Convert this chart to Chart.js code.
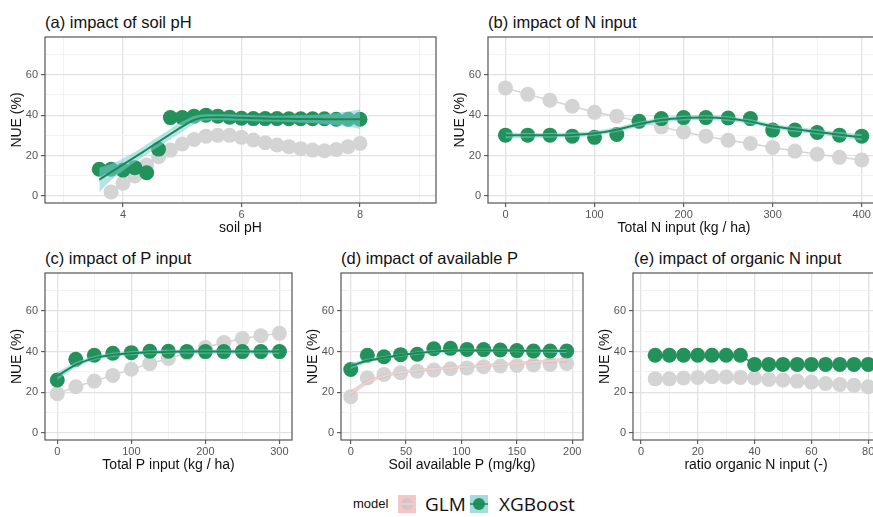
<!DOCTYPE html>
<html>
<head>
<meta charset="utf-8">
<script src="https://cdn.jsdelivr.net/npm/chart.js@4.4.1/dist/chart.umd.min.js"></script>
<style>
  html, body { margin: 0; padding: 0; background: #fff; overflow: hidden; width: 873px; height: 517px; }
  body { position: relative; font-family: "Liberation Sans", Arial, sans-serif; }
  canvas { position: absolute; }
  .ptitle { position: absolute; font-size: 16.5px; line-height: 1; color: #111; white-space: nowrap; }
  .lg { position: absolute; top: 495px; height: 18px; line-height: 18px; color: #111; white-space: nowrap; }
  .lg svg { display: block; }
</style>
</head>
<body>
<div class="ptitle" style="left:45px;top:14px">(a) impact of soil pH</div>
<div class="ptitle" style="left:488px;top:14px">(b) impact of N input</div>
<div class="ptitle" style="left:45px;top:250px">(c) impact of P input</div>
<div class="ptitle" style="left:341px;top:250px">(d) impact of available P</div>
<div class="ptitle" style="left:634px;top:250px">(e) impact of organic N input</div>

<canvas id="pa" width="447" height="214" style="left:3px;top:23px"></canvas>
<canvas id="pb" width="448" height="214" style="left:446px;top:23px"></canvas>
<canvas id="pc" width="303" height="215" style="left:3px;top:259px"></canvas>
<canvas id="pd" width="298" height="215" style="left:299px;top:259px"></canvas>
<canvas id="pe" width="302" height="215" style="left:591px;top:259px"></canvas>

<div class="lg" style="left:353px;font-size:13px">model</div>
<div class="lg" style="left:398px">
  <svg width="18" height="18"><rect width="18" height="18" fill="#f5c6c6"/><line x1="0" y1="9" x2="18" y2="9" stroke="#ddd4d4" stroke-width="1.5"/><circle cx="9" cy="9" r="6" fill="#d6c4c6"/><line x1="3" y1="9" x2="15" y2="9" stroke="#e4dada" stroke-width="1.5"/></svg>
</div>
<div class="lg" style="left:425px;font-size:19px;font-family:'Open Sans',sans-serif">GLM</div>
<div class="lg" style="left:470px">
  <svg width="18" height="18"><rect width="18" height="18" fill="#a5dade"/><circle cx="9" cy="9" r="6" fill="#22925a"/><line x1="0" y1="9" x2="18" y2="9" stroke="#1a8a50" stroke-width="1.5"/></svg>
</div>
<div class="lg" style="left:499px;font-size:19px;font-family:'Open Sans',sans-serif">XGBoost</div>

<script>
// (a) soil pH
const phX = [3.6, 3.8, 4.0, 4.2, 4.4, 4.6, 4.8, 5.0, 5.2, 5.4, 5.6, 5.8, 6.0, 6.2, 6.4, 6.6, 6.8, 7.0, 7.2, 7.4, 7.6, 7.8, 8.0];
const phGlm = [null, 2.0, 6.3, 9.9, 15.3, 19.4, 22.7, 25.7, 28.0, 29.6, 30.0, 30.0, 29.0, 27.7, 26.3, 25.2, 24.4, 23.4, 22.7, 22.4, 23.0, 24.4, 26.0];
const phXgb = [13.2, 13.2, 12.8, 14.0, 11.5, 23.2, 38.8, 38.8, 39.5, 40.0, 39.5, 39.0, 38.5, 38.3, 38.3, 38.3, 38.2, 38.2, 38.2, 38.2, 38.0, 38.0, 38.0];
const phXgbFit = [8.0, 11.8, 15.5, 19.2, 23.0, 26.8, 30.6, 34.3, 37.6, 38.9, 39.0, 38.9, 38.7, 38.5, 38.3, 38.2, 38.2, 38.1, 38.1, 38.0, 38.0, 38.0, 38.0];
const phXgbBand = [6.0, 4.0, 3.0, 2.5, 2.5, 2.5, 2.5, 2.5, 2.0, 1.5, 1.5, 1.5, 1.5, 1.5, 1.5, 1.5, 1.6, 1.8, 2.0, 2.5, 3.0, 3.8, 4.8];

// (b) total N input
const nX = [0, 25, 50, 75, 100, 125, 150, 175, 200, 225, 250, 275, 300, 325, 350, 375, 400];
const nGlm = [53.5, 50.3, 47.4, 44.4, 41.4, 39.5, 36.8, 34.2, 31.7, 29.6, 27.6, 26.0, 24.0, 22.2, 20.7, 19.1, 17.8];
const nXgb = [30.1, 30.1, 30.1, 29.6, 29.0, 30.4, 37.0, 38.3, 38.8, 38.8, 38.6, 38.3, 32.6, 32.6, 31.4, 30.1, 29.6];
const nXgbFit = [30.0, 30.0, 30.0, 30.2, 31.0, 32.8, 35.5, 37.6, 38.6, 38.8, 38.3, 36.8, 34.5, 33.0, 31.7, 30.3, 29.0];
const nXgbBand = [1.5, 1.2, 1.2, 1.2, 1.2, 1.2, 1.2, 1.2, 1.2, 1.2, 1.2, 1.2, 1.2, 1.2, 1.2, 1.3, 1.6];

// (c) total P input
const pX = [0, 25, 50, 75, 100, 125, 150, 175, 200, 225, 250, 275, 300];
const pGlm = [19.3, 22.7, 25.5, 28.3, 31.3, 34.1, 36.6, 39.3, 42.0, 44.5, 46.5, 47.8, 49.0];
const pXgb = [26.0, 36.2, 38.2, 39.2, 39.5, 40.2, 40.2, 40.0, 40.0, 40.0, 40.0, 40.0, 40.0];
const pXgbFit = [28.0, 33.5, 36.8, 38.4, 39.2, 39.7, 39.9, 40.0, 40.0, 40.0, 40.0, 40.0, 40.0];
const pXgbBand = [2.0, 1.3, 1.0, 1.0, 1.0, 1.0, 1.0, 1.0, 1.0, 1.0, 1.0, 1.0, 1.2];

// (d) soil available P
const aX = [0, 15, 30, 45, 60, 75, 90, 105, 120, 135, 150, 165, 180, 195];
const aGlm = [17.8, 27.1, 28.8, 29.6, 30.4, 30.9, 31.6, 32.0, 32.6, 32.9, 33.2, 33.4, 33.7, 34.2];
const aXgb = [31.2, 38.2, 37.5, 38.5, 38.7, 41.4, 41.6, 41.1, 41.0, 40.8, 40.5, 40.3, 40.3, 40.3];
const aGlmFit = [19.5, 25.0, 28.0, 29.8, 30.8, 31.5, 32.1, 32.6, 33.1, 33.6, 34.2, 34.8, 35.4, 36.0];
const aGlmBand = [1.5, 1.0, 0.9, 0.8, 0.8, 0.8, 0.8, 0.8, 0.8, 0.8, 0.8, 0.9, 1.0, 1.2];
const aXgbFit = [33.0, 35.5, 37.0, 38.3, 39.3, 40.0, 40.5, 40.6, 40.6, 40.6, 40.5, 40.4, 40.4, 40.3];
const aXgbBand = [1.5, 1.0, 0.8, 0.8, 0.8, 0.8, 0.8, 0.8, 0.8, 0.8, 0.8, 0.8, 0.9, 1.1];

// (e) ratio organic N input
const oX = [5, 10, 15, 20, 25, 30, 35, 40, 45, 50, 55, 60, 65, 70, 75, 80];
const oGlm = [26.6, 26.6, 27.0, 27.3, 27.6, 27.5, 27.3, 27.0, 26.3, 26.0, 25.5, 25.0, 24.3, 23.8, 23.4, 22.7];
const oXgb = [38.2, 38.2, 38.2, 38.2, 38.2, 38.2, 38.2, 33.7, 33.7, 33.7, 33.7, 33.7, 33.7, 33.7, 33.7, 33.7];

const yTicks = [0, 20, 40, 60];
const FONT = '"Liberation Sans", Arial, sans-serif';
const GREEN = '#22925a';
const GREEN_LINE = '#1a8a50';
const GREY = '#d4d4d4';
const TEAL = 'rgba(118, 204, 214, 0.55)';
const PINK = 'rgba(243, 160, 160, 0.45)';

const pts = (xs, ys) => xs.map((x, i) => ({ x: x, y: ys[i] }));

// frame around each panel, like theme_bw
const panelBox = {
  id: 'panelBox',
  afterDraw(chart) {
    const { ctx, chartArea: a } = chart;
    ctx.save();
    ctx.strokeStyle = '#555';
    ctx.lineWidth = 1.2;
    ctx.strokeRect(a.left, a.top, a.right - a.left, a.bottom - a.top);
    ctx.restore();
  }
};

function points(xs, ys, color, line, order) {
  return {
    data: pts(xs, ys), order: order, showLine: line, spanGaps: false,
    borderColor: color, borderWidth: 1.5, tension: 0,
    pointRadius: 7.5, pointBorderWidth: 0, pointBackgroundColor: color
  };
}

function fitLine(xs, ys, color, order) {
  return {
    data: pts(xs, ys), order: order, borderColor: color, borderWidth: 2,
    pointRadius: 0, cubicInterpolationMode: 'monotone'
  };
}

// confidence band: upper edge filled down to the lower edge
function band(xs, fit, half, color, order) {
  const style = { order: order, borderWidth: 0, pointRadius: 0, cubicInterpolationMode: 'monotone', backgroundColor: color };
  return [
    Object.assign({ data: pts(xs, fit.map((v, i) => v + half[i])), fill: '+1' }, style),
    Object.assign({ data: pts(xs, fit.map((v, i) => v - half[i])), fill: false }, style)
  ];
}

function axis(dir, min, max, step, major, title) {
  const isMajor = v => Math.abs(v / major - Math.round(v / major)) < 1e-6;
  return {
    type: 'linear',
    position: dir === 'x' ? 'bottom' : 'left',
    min: min, max: max,
    border: { display: false },
    grid: {
      color: c => c.tick && isMajor(c.tick.value) ? '#e2e2e2' : '#efefef',
      lineWidth: c => c.tick && isMajor(c.tick.value) ? 1.3 : 0.8,
      tickColor: c => c.tick && isMajor(c.tick.value) ? '#444' : 'rgba(0,0,0,0)',
      tickLength: 4,
      tickWidth: 1
    },
    ticks: {
      stepSize: step, includeBounds: false, autoSkip: false, maxTicksLimit: 40,
      maxRotation: 0, padding: dir === 'x' ? 1 : 3,
      color: '#555', font: { size: 11, family: FONT },
      callback: v => (dir === 'y' ? yTicks.includes(v) : isMajor(v)) ? v : ''
    },
    title: {
      display: true, text: title, color: '#111',
      font: { size: 14, family: FONT },
      padding: dir === 'x' ? { top: 0, bottom: 0 } : { top: 6, bottom: 0 }
    },
    afterFit: s => { if (dir === 'x') s.height = 34; else s.width = 42; }
  };
}

function panel(id, x, datasets) {
  return new Chart(document.getElementById(id), {
    type: 'line',
    data: { datasets: datasets },
    options: {
      responsive: false,
      animation: false,
      events: [],
      layout: { padding: { top: 14, right: 14, left: 0, bottom: 0 } },
      plugins: { legend: { display: false }, tooltip: { enabled: false } },
      scales: {
        x: axis('x', x.min, x.max, x.step, x.major, x.title),
        y: axis('y', -3.5, 78.7, 10, 20, 'NUE (%)')
      }
    },
    plugins: [panelBox]
  });
}

panel('pa', { min: 2.684, max: 9.283, step: 1, major: 2, title: 'soil pH' }, [
  points(phX, phGlm, GREY, true, 6),
  points(phX, phXgb, GREEN, false, 4),
  ...band(phX, phXgbFit, phXgbBand, TEAL, 3),
  fitLine(phX, phXgbFit, GREEN_LINE, 1)
]);

panel('pb', { min: -19.6, max: 420.5, step: 50, major: 100, title: 'Total N input (kg / ha)' }, [
  points(nX, nGlm, GREY, true, 6),
  points(nX, nXgb, GREEN, false, 4),
  ...band(nX, nXgbFit, nXgbBand, TEAL, 3),
  fitLine(nX, nXgbFit, GREEN_LINE, 1)
]);

panel('pc', { min: -16.6, max: 317, step: 50, major: 100, title: 'Total P input (kg / ha)' }, [
  points(pX, pGlm, GREY, true, 6),
  points(pX, pXgb, GREEN, false, 4),
  ...band(pX, pXgbFit, pXgbBand, TEAL, 3),
  fitLine(pX, pXgbFit, GREEN_LINE, 1)
]);

panel('pd', { min: -8.8, max: 209.7, step: 25, major: 50, title: 'Soil available P (mg/kg)' }, [
  points(aX, aGlm, GREY, false, 6),
  points(aX, aXgb, GREEN, false, 4),
  ...band(aX, aGlmFit, aGlmBand, PINK, 3),
  ...band(aX, aXgbFit, aXgbBand, TEAL, 3),
  fitLine(aX, aGlmFit, '#e2d6d6', 2),
  fitLine(aX, aXgbFit, GREEN_LINE, 1)
]);

panel('pe', { min: -2.8, max: 83.8, step: 10, major: 20, title: 'ratio organic N input (-)' }, [
  points(oX, oGlm, GREY, true, 6),
  points(oX, oXgb, GREEN, true, 4)
]);
</script>
</body>
</html>
